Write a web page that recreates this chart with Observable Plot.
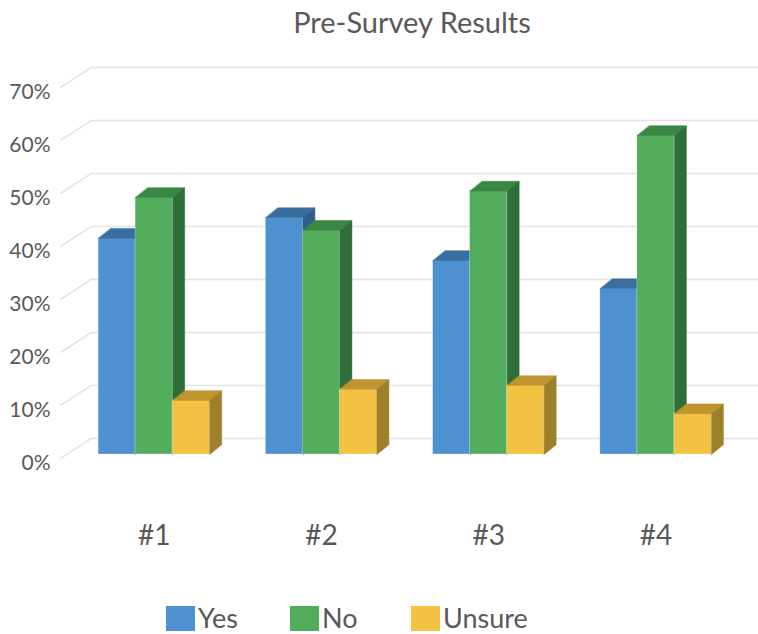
<!DOCTYPE html>
<html>
<head>
<meta charset="utf-8">
<script src="https://cdn.jsdelivr.net/npm/d3@7"></script>
<script src="https://cdn.jsdelivr.net/npm/@observablehq/plot@0.6"></script>
<style>
  html, body { margin: 0; padding: 0; background: #fff; }
  body { width: 758px; height: 634px; overflow: hidden; font-family: Lato, "Open Sans", sans-serif; color: #595959; }
  #title { height: 45px; line-height: 44px; font-size: 29px; text-align: center; padding-left: 66px; box-sizing: border-box; }
  #chart svg { display: block; }
  #legend { display: flex; align-items: center; padding-left: 166px; margin-top: 2px; height: 32px; font-size: 27px; line-height: 32px; }
  #legend .item { display: flex; align-items: center; }
  #legend .swatch { width: 29px; height: 25px; margin-right: 3px; flex: none; }
</style>
</head>
<body>
<div id="title">Pre-Survey Results</div>
<div id="chart"></div>
<div id="legend"></div>
<script>
// Survey answers per question, in percent
const groups = ["#1", "#2", "#3", "#4"];
const yes = [40.8, 44.7, 36.6, 31.3];
const no = [48.5, 42.3, 49.7, 60.2];
const unsure = [10.2, 12.3, 13.0, 7.7];
const seriesNames = ["Yes", "No", "Unsure"];
const yTicks = [0, 10, 20, 30, 40, 50, 60, 70];

// Face shading for each series: front, top, side
const palette = [
  {front: "#4e91d0", top: "#3a6e9f", side: "#2f5d89"},
  {front: "#51ad5c", top: "#3a8744", side: "#2e6e3a"},
  {front: "#f4c243", top: "#bf952f", side: "#9e7f2a"}
];

// Box geometry in x/y data units
const barW = 0.2213;      // width of one bar
const depthX = 0.072;     // oblique depth, horizontal part
const depthY = 1.85;      // oblique depth, vertical part (percent)
const wallX0 = 0.44, wallX1 = 0.625;

const series = [yes, no, unsure].map((vals, j) =>
  vals.map((v, i) => {
    const x0 = (i + 1) - 1.5 * barW + j * barW;
    return {group: groups[i], series: seriesNames[j], value: v, x0, x1: x0 + barW};
  })
);

function topFace(bars) {
  return bars.flatMap((b, k) => [
    {id: k, x: b.x0, y: b.value},
    {id: k, x: b.x1, y: b.value},
    {id: k, x: b.x1 + depthX, y: b.value + depthY},
    {id: k, x: b.x0 + depthX, y: b.value + depthY}
  ]);
}
function sideFace(bars) {
  return bars.flatMap((b, k) => [
    {id: k, x: b.x1, y: 0},
    {id: k, x: b.x1 + depthX, y: depthY},
    {id: k, x: b.x1 + depthX, y: b.value + depthY},
    {id: k, x: b.x1, y: b.value}
  ]);
}

const boxMarks = series.flatMap((bars, j) => [
  Plot.rectY(bars, {x1: "x0", x2: "x1", y1: 0, y2: "value", fill: palette[j].front, stroke: "#ffffff", strokeOpacity: 0.35, strokeWidth: 0.8}),
  Plot.line(topFace(bars), {x: "x", y: "y", z: "id", curve: "linear-closed", fill: palette[j].top, stroke: palette[j].top, strokeWidth: 0.5}),
  Plot.line(sideFace(bars), {x: "x", y: "y", z: "id", curve: "linear-closed", fill: palette[j].side, stroke: palette[j].side, strokeWidth: 0.5})
]);

const chart = Plot.plot({
  width: 758,
  height: 555,
  marginLeft: 70,
  marginRight: 19,
  marginTop: 38,
  marginBottom: 146,
  style: {color: "#595959", fontFamily: "Lato, 'Open Sans', sans-serif", background: "#fff"},
  x: {domain: [0.5, 4.5], axis: null},
  y: {domain: [0, 70], axis: null},
  marks: [
    // back wall gridlines and their floor-side returns
    Plot.ruleY(yTicks, {stroke: "#e3e3e3", strokeWidth: 1.5, dx: 21, dy: -16}),
    Plot.link(yTicks, {x1: () => wallX0, x2: () => wallX1, y1: d => d, y2: d => d + 3.8, dy: 4, stroke: "#e3e3e3", strokeWidth: 1.5}),
    ...boxMarks,
    Plot.axisY({ticks: yTicks, tickFormat: d => d + "%", tickSize: 0, tickPadding: 20, fontSize: 21, dy: 9}),
    Plot.axisX({ticks: [1, 2, 3, 4], tickFormat: d => groups[d - 1], tickSize: 0, tickPadding: 71, fontSize: 28})
  ]
});
document.getElementById("chart").appendChild(chart);

// Legend
const legend = document.getElementById("legend");
const itemWidths = [124, 121, null];
seriesNames.forEach((name, j) => {
  const item = document.createElement("div");
  item.className = "item";
  if (itemWidths[j]) item.style.width = itemWidths[j] + "px";
  const sw = document.createElement("div");
  sw.className = "swatch";
  sw.style.background = palette[j].front;
  const label = document.createElement("span");
  label.textContent = name;
  item.append(sw, label);
  legend.appendChild(item);
});
</script>
</body>
</html>
